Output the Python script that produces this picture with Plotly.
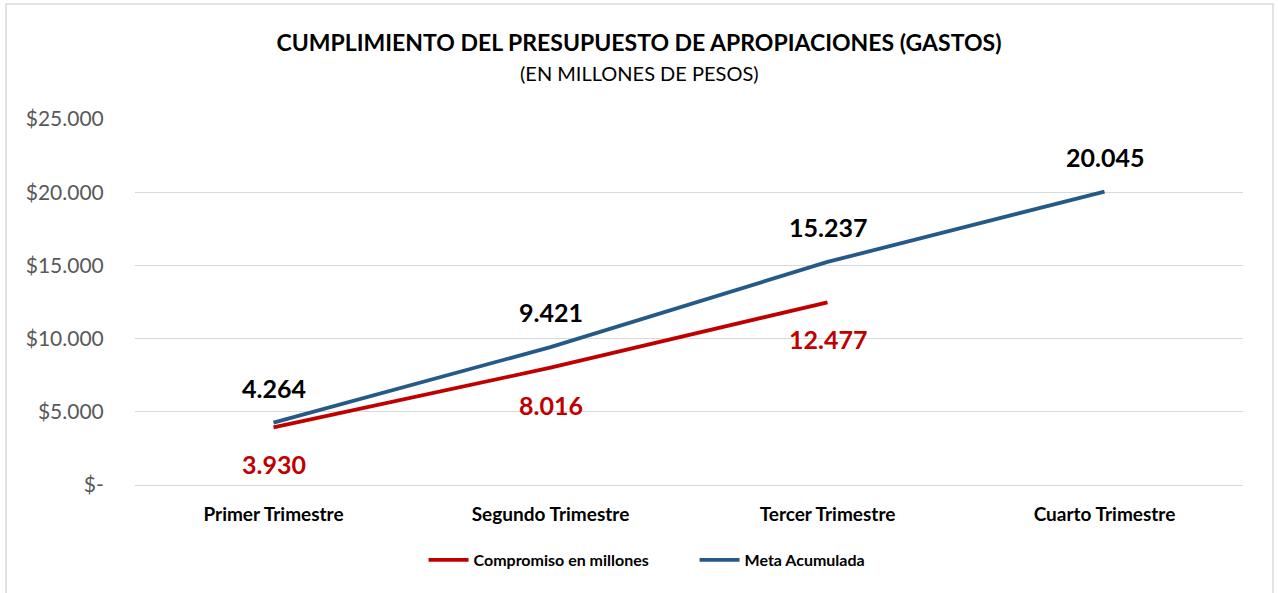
import plotly.graph_objects as go

categories = ["Primer Trimestre", "Segundo Trimestre", "Tercer Trimestre", "Cuarto Trimestre"]
compromiso = [3930, 8016, 12477]
meta = [4264, 9421, 15237, 20045]
ytick_vals = [0, 5000, 10000, 15000, 20000, 25000]
ytick_text = ["$-", "$5.000", "$10.000", "$15.000", "$20.000", "$25.000"]

RED = "#C00000"
BLUE = "#255A88"
FONT = "Lato, 'Open Sans', sans-serif"

def fmt(v):
    return f"{v:,}".replace(",", ".")

fig = go.Figure()
fig.add_trace(go.Scatter(x=categories[:len(compromiso)], y=compromiso, mode="lines",
                         name="<b>Compromiso en millones</b>", line=dict(color=RED, width=3.8)))
fig.add_trace(go.Scatter(x=categories, y=meta, mode="lines",
                         name="<b>Meta Acumulada</b>", line=dict(color=BLUE, width=3.8)))

annotations = []
for c, v in zip(categories, meta):
    annotations.append(dict(x=c, y=v, text=f"<b>{fmt(v)}</b>", showarrow=False, yshift=35,
                            font=dict(family=FONT, size=25, color="#000000")))
for c, v in zip(categories, compromiso):
    annotations.append(dict(x=c, y=v, text=f"<b>{fmt(v)}</b>", showarrow=False, yshift=-37,
                            font=dict(family=FONT, size=25, color=RED)))
annotations.append(dict(x=0.5, xref="paper", y=1.1257, yref="paper", yanchor="middle",
                        text="(EN MILLONES DE PESOS)", showarrow=False,
                        xshift=(639 - 689),
                        font=dict(family=FONT, size=20, color="#000000")))

fig.update_layout(
    width=1278, height=593,
    paper_bgcolor="white", plot_bgcolor="white",
    margin=dict(l=135, r=35, t=119, b=108),
    font=dict(family=FONT),
    title=dict(text="<b>CUMPLIMIENTO DEL PRESUPUESTO DE APROPIACIONES (GASTOS)</b>",
               x=0.5, xanchor="center", xref="container", y=1 - 43 / 593, yref="container",
               yanchor="middle", font=dict(family=FONT, size=23, color="#000000")),
    showlegend=True,
    legend=dict(orientation="h", x=0.505, xanchor="center", y=-0.205, yanchor="middle",
                font=dict(family=FONT, size=16, color="#000000"), traceorder="normal",
                itemwidth=40, entrywidth=216),
    annotations=annotations,
    xaxis=dict(type="category", categoryorder="array", categoryarray=categories,
               range=[-0.5, 3.5], showgrid=False, showline=False, zeroline=False,
               ticks="outside", ticklen=12, tickcolor="rgba(0,0,0,0)",
               tickfont=dict(family=FONT, size=19, color="#000000"),
               tickvals=categories, ticktext=[f"<b>{c}</b>" for c in categories]),
    yaxis=dict(range=[0, 25000], tickvals=ytick_vals, ticktext=ytick_text,
               showgrid=True, gridcolor="#D9D9D9", gridwidth=1, zeroline=True,
               zerolinecolor="#D9D9D9", zerolinewidth=1, showline=False,
               ticks="outside", ticklen=26, tickcolor="rgba(0,0,0,0)",
               tickfont=dict(family=FONT, size=21, color="#595959")),
    shapes=[dict(type="rect", xref="paper", yref="paper",
                 x0=(6 - 135) / 1108, x1=(1273 - 135) / 1108,
                 y0=-(600 - 485) / 366, y1=1 + (119 - 4) / 366,
                 line=dict(color="#D9D9D9", width=1.5), fillcolor="rgba(0,0,0,0)", layer="below")],
)

fig.write_html("out.html", config={"displayModeBar": False},
               post_script="document.body.style.margin='0';")
